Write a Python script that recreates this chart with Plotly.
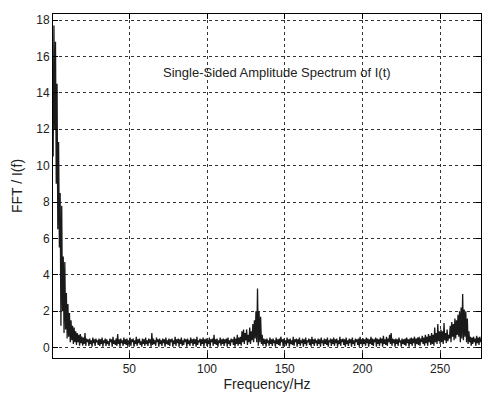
import plotly.graph_objects as go
import numpy as np

# Frequency grid (FFT bins): start, step
freq_start = 1.0
freq_step = 0.5

# Amplitude values, 20 bins (10 Hz) per row
amplitude = [
    10.5, 17.7, 12.0, 16.8, 9.0, 14.5, 6.5, 11.3, 5.5, 8.5, 1.2, 7.8, 2.0, 5.0, 0.8, 4.7, 1.0, 3.0, 0.5, 2.4,
    0.6, 1.9, 0.3, 1.5, 0.4, 1.2, 0.2, 1.1, 0.3, 0.9, 0.15, 0.8, 0.3, 0.7, 0.1, 0.75, 0.25, 0.6, 0.1, 0.55,
    0.2, 0.8, 0.1, 0.5, 0.3, 0.45, 0.1, 0.5, 0.2, 0.4, 0.05, 0.55, 0.25, 0.45, 0.1, 0.5, 0.3, 0.4, 0.15, 0.5,
    0.1, 0.45, 0.2, 0.55, 0.05, 0.4, 0.25, 0.5, 0.1, 0.45, 0.2, 0.35, 0.1, 0.5, 0.3, 0.45, 0.05, 0.6, 0.2, 0.4,
    0.15, 0.5, 0.1, 0.75, 0.2, 0.45, 0.05, 0.5, 0.25, 0.4, 0.1, 0.55, 0.2, 0.45, 0.15, 0.5, 0.05, 0.4, 0.2, 0.55,
    0.1, 0.45, 0.3, 0.5, 0.05, 0.4, 0.2, 0.6, 0.1, 0.45, 0.25, 0.5, 0.15, 0.35, 0.05, 0.5, 0.2, 0.45, 0.1, 0.55,
    0.2, 0.4, 0.1, 0.5, 0.25, 0.45, 0.05, 0.8, 0.15, 0.5, 0.2, 0.4, 0.1, 0.55, 0.3, 0.45, 0.05, 0.5, 0.2, 0.4,
    0.1, 0.5, 0.25, 0.45, 0.05, 0.55, 0.2, 0.4, 0.15, 0.5, 0.1, 0.45, 0.3, 0.5, 0.05, 0.4, 0.2, 0.6, 0.1, 0.45,
    0.25, 0.5, 0.05, 0.45, 0.2, 0.55, 0.1, 0.4, 0.15, 0.5, 0.3, 0.45, 0.05, 0.5, 0.2, 0.4, 0.1, 0.55, 0.25, 0.45,
    0.1, 0.5, 0.2, 0.45, 0.05, 0.6, 0.15, 0.4, 0.3, 0.5, 0.1, 0.45, 0.2, 0.55, 0.05, 0.45, 0.25, 0.5, 0.1, 0.4,
    0.2, 0.55, 0.05, 0.45, 0.3, 0.5, 0.1, 0.7, 0.2, 0.45, 0.15, 0.5, 0.05, 0.4, 0.25, 0.55, 0.1, 0.45, 0.2, 0.5,
    0.1, 0.45, 0.25, 0.5, 0.05, 0.55, 0.2, 0.4, 0.1, 0.5, 0.3, 0.45, 0.15, 0.6, 0.05, 0.5, 0.2, 0.7, 0.1, 0.55,
    0.2, 0.6, 0.1, 0.9, 0.3, 1.0, 0.2, 0.8, 0.4, 1.0, 0.15, 0.7, 0.3, 1.1, 0.2, 0.9, 0.4, 1.3, 0.3, 1.5,
    0.5, 2.0, 0.3, 3.25, 0.1, 2.0, 0.3, 1.7, 0.2, 0.7, 0.1, 0.5, 0.2, 0.45, 0.05, 0.5, 0.25, 0.4, 0.1, 0.55,
    0.2, 0.45, 0.1, 0.5, 0.25, 0.4, 0.05, 0.55, 0.2, 0.45, 0.15, 0.5, 0.1, 0.6, 0.3, 0.45, 0.05, 0.5, 0.2, 0.4,
    0.1, 0.55, 0.25, 0.45, 0.05, 0.5, 0.2, 0.4, 0.15, 0.6, 0.1, 0.45, 0.3, 0.5, 0.05, 0.45, 0.2, 0.55, 0.1, 0.4,
    0.25, 0.5, 0.05, 0.45, 0.2, 0.55, 0.1, 0.4, 0.3, 0.5, 0.15, 0.45, 0.05, 0.6, 0.2, 0.45, 0.1, 0.5, 0.25, 0.4,
    0.1, 0.5, 0.2, 0.45, 0.05, 0.55, 0.25, 0.4, 0.1, 0.5, 0.2, 0.45, 0.15, 0.55, 0.05, 0.4, 0.3, 0.5, 0.1, 0.45,
    0.2, 0.55, 0.1, 0.45, 0.25, 0.5, 0.05, 0.4, 0.2, 0.6, 0.1, 0.45, 0.3, 0.5, 0.15, 0.45, 0.05, 0.55, 0.2, 0.4,
    0.1, 0.5, 0.25, 0.45, 0.05, 0.55, 0.2, 0.4, 0.1, 0.5, 0.3, 0.45, 0.15, 0.5, 0.05, 0.6, 0.2, 0.45, 0.1, 0.5,
    0.2, 0.45, 0.1, 0.55, 0.25, 0.5, 0.05, 0.45, 0.2, 0.6, 0.15, 0.5, 0.1, 0.45, 0.3, 0.55, 0.05, 0.5, 0.2, 0.45,
    0.1, 0.55, 0.25, 0.5, 0.05, 0.65, 0.2, 0.45, 0.15, 0.6, 0.1, 0.5, 0.3, 0.7, 0.2, 0.8, 0.1, 0.5, 0.25, 0.45,
    0.05, 0.5, 0.2, 0.45, 0.1, 0.55, 0.3, 0.4, 0.05, 0.5, 0.2, 0.45, 0.15, 0.5, 0.1, 0.55, 0.25, 0.45, 0.05, 0.5,
    0.2, 0.55, 0.1, 0.5, 0.25, 0.6, 0.05, 0.5, 0.2, 0.55, 0.15, 0.6, 0.1, 0.5, 0.3, 0.65, 0.2, 0.55, 0.1, 0.7,
    0.25, 0.6, 0.1, 0.75, 0.3, 0.65, 0.15, 0.8, 0.2, 0.7, 0.1, 1.1, 0.3, 0.8, 0.2, 1.3, 0.35, 0.9, 0.2, 1.0,
    0.3, 0.9, 0.2, 1.35, 0.4, 0.8, 0.25, 1.0, 0.35, 0.7, 0.5, 1.2, 0.3, 1.4, 0.6, 1.3, 0.4, 1.6, 0.5, 1.5,
    0.7, 1.8, 0.6, 2.0, 0.3, 2.2, 0.5, 2.95, 0.4, 2.1, 0.6, 2.0, 0.3, 1.6, 0.2, 0.9, 0.3, 0.6, 0.1, 0.55,
    0.2, 0.6, 0.3, 0.5, 0.1, 0.65, 0.25, 0.55, 0.15, 0.6, 0.3, 0.5, 0.2,
]

frequency = freq_start + freq_step * np.arange(len(amplitude))

x_ticks = [50, 100, 150, 200, 250]
y_ticks = [0, 2, 4, 6, 8, 10, 12, 14, 16, 18]

title_text = "Single-Sided Amplitude Spectrum of I(t)"
x_label = "Frequency/Hz"
y_label = "FFT / I(f)"

FONT = "Liberation Sans, Arial, sans-serif"
TXT = "#222222"

fig = go.Figure()
fig.add_trace(go.Scatter(
    x=frequency, y=amplitude, mode="lines",
    line=dict(color="#1a1a1a", width=1.3),
    showlegend=False, hoverinfo="skip",
))

fig.add_annotation(
    x=145, y=15.1, xref="x", yref="y", text=title_text, showarrow=False,
    font=dict(family=FONT, size=13, color=TXT),
)

axis_common = dict(
    showline=True, linecolor="#000000", linewidth=1, mirror="ticks",
    ticks="inside", ticklen=5, tickcolor="#000000", tickwidth=1,
    showgrid=True, gridcolor="#333333", gridwidth=1, griddash="3px,3px",
    zeroline=False, automargin=False,
    tickfont=dict(family=FONT, size=12, color=TXT),
)

fig.update_xaxes(
    range=[0.9, 276.3], tickvals=x_ticks, ticktext=[str(v) for v in x_ticks],
    title=dict(text=x_label, font=dict(family=FONT, size=14, color=TXT), standoff=3),
    **axis_common,
)
fig.update_yaxes(
    range=[-0.57, 18.33], tickvals=y_ticks, ticktext=[str(v) for v in y_ticks],
    title=dict(text=y_label, font=dict(family=FONT, size=14, color=TXT), standoff=10),
    **axis_common,
)

fig.update_layout(
    width=482, height=393,
    margin=dict(l=53, r=1, t=14, b=35, pad=0),
    paper_bgcolor="#ffffff", plot_bgcolor="#ffffff",
    font=dict(family=FONT, size=12, color=TXT),
)

fig.write_html(
    "out.html",
    config={"displayModeBar": False},
    post_script="document.body.style.margin='0';document.body.style.overflow='hidden';",
)
